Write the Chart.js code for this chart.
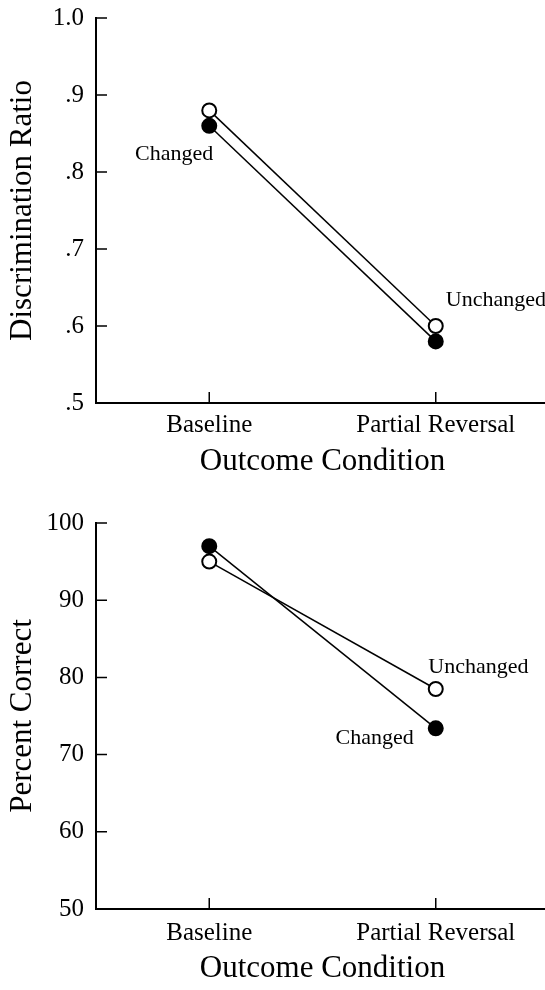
<!DOCTYPE html>
<html>
<head>
<meta charset="utf-8">
<script src="https://cdn.jsdelivr.net/npm/chart.js@4"></script>
<style>
  html, body { margin: 0; padding: 0; background: #fff; overflow: hidden; }
  .box { width: 549px; height: 495px; }
  canvas { display: block; }
</style>
</head>
<body>
<div class="box"><canvas id="ratio" width="549" height="495"></canvas></div>
<div class="box"><canvas id="percent" width="549" height="495"></canvas></div>
<script>
const conditions = ["Baseline", "Partial Reversal"];

// discrimination ratio panel
const ratioChanged = [0.86, 0.58];
const ratioUnchanged = [0.88, 0.60];
const ratioTicks = [0.5, 0.6, 0.7, 0.8, 0.9, 1.0];
const ratioTickLabels = [".5", ".6", ".7", ".8", ".9", "1.0"];

// percent correct panel
const pctChanged = [97, 73.4];
const pctUnchanged = [95, 78.5];
const pctTicks = [50, 60, 70, 80, 90, 100];
const pctTickLabels = ["50", "60", "70", "80", "90", "100"];

Chart.defaults.font.family = '"Liberation Serif", "Times New Roman", serif';
Chart.defaults.color = "#000";

// short tick marks pointing into the plot area
const innerTicks = {
  id: "innerTicks",
  afterDraw(chart) {
    const { ctx, chartArea, scales } = chart;
    ctx.save();
    ctx.strokeStyle = "#000";
    ctx.lineWidth = 1.5;
    ctx.beginPath();
    scales.y.ticks.forEach((t) => {
      const y = scales.y.getPixelForValue(t.value);
      ctx.moveTo(chartArea.left, y);
      ctx.lineTo(chartArea.left + 11, y);
    });
    scales.x.ticks.forEach((t, i) => {
      const x = scales.x.getPixelForTick(i);
      ctx.moveTo(x, chartArea.bottom);
      ctx.lineTo(x, chartArea.bottom - 11);
    });
    ctx.stroke();
    ctx.restore();
  },
};

// series names written next to the points
const notes = {
  id: "notes",
  afterDatasetsDraw(chart, args, opts) {
    const { ctx, scales } = chart;
    ctx.save();
    ctx.fillStyle = "#000";
    ctx.font = '22px "Liberation Serif", "Times New Roman", serif';
    ctx.textBaseline = "alphabetic";
    opts.items.forEach((n) => {
      const v = chart.data.datasets[n.ds].data[n.i];
      const x = scales.x.getPixelForValue(n.i) + n.dx;
      const y = scales.y.getPixelForValue(v) + n.dy;
      ctx.textAlign = n.align;
      ctx.fillText(n.text, x, y);
    });
    ctx.restore();
  },
};

function makePanel(id, p) {
  const ctx = document.getElementById(id).getContext("2d");
  return new Chart(ctx, {
    type: "line",
    data: {
      labels: conditions,
      datasets: [
        {
          label: "Changed",
          data: p.changed,
          borderColor: "#000",
          borderWidth: 1.5,
          pointRadius: 7,
          pointBorderWidth: 2,
          pointBackgroundColor: "#000",
          pointBorderColor: "#000",
          tension: 0,
          order: p.changedOnTop ? 0 : 1,
        },
        {
          label: "Unchanged",
          data: p.unchanged,
          borderColor: "#000",
          borderWidth: 1.5,
          pointRadius: 7,
          pointBorderWidth: 2,
          pointBackgroundColor: "#fff",
          pointBorderColor: "#000",
          tension: 0,
          order: p.changedOnTop ? 1 : 0,
        },
      ],
    },
    options: {
      responsive: false,
      animation: false,
      layout: { autoPadding: false, padding: { top: p.top, left: 0, right: 0, bottom: 0 } },
      plugins: {
        legend: { display: false },
        tooltip: { enabled: false },
        notes: { items: p.notes },
      },
      scales: {
        x: {
          type: "category",
          offset: true,
          grid: { display: false, drawTicks: false },
          border: { display: true, color: "#000", width: 2 },
          ticks: { font: { size: 25 }, padding: p.tickPad, maxRotation: 0, color: "#000" },
          title: {
            display: true,
            text: "Outcome Condition",
            font: { size: 31 },
            color: "#000",
            padding: { top: 0, bottom: p.titlePad },
          },
          afterFit: (s) => {
            s.height = p.axisH;
            s.paddingLeft = 0;
            s.paddingRight = 0;
          },
        },
        y: {
          type: "linear",
          min: p.ticks[0],
          max: p.ticks[p.ticks.length - 1],
          afterBuildTicks: (s) => { s.ticks = p.ticks.map((v) => ({ value: v })); },
          grid: { display: false, drawTicks: false },
          border: { display: true, color: "#000", width: 2 },
          ticks: {
            font: { size: 25 },
            padding: 12,
            color: "#000",
            callback: (v) => p.tickLabels[p.ticks.indexOf(v)],
          },
          title: {
            display: true,
            text: p.yTitle,
            font: { size: 31 },
            color: "#000",
            padding: { top: 4, bottom: 0 },
          },
          afterFit: (s) => {
            s.width = 96;
            s.paddingTop = 0;
            s.paddingBottom = 0;
          },
        },
      },
    },
    plugins: [innerTicks, notes],
  });
}

makePanel("ratio", {
  changed: ratioChanged,
  unchanged: ratioUnchanged,
  ticks: ratioTicks,
  tickLabels: ratioTickLabels,
  yTitle: "Discrimination Ratio",
  changedOnTop: false,
  top: 18,
  axisH: 92,
  tickPad: 7,
  titlePad: 15,
  notes: [
    { text: "Changed", ds: 0, i: 0, dx: 4, dy: 34, align: "right" },
    { text: "Unchanged", ds: 1, i: 1, dx: 10, dy: -20, align: "left" },
  ],
});

makePanel("percent", {
  changed: pctChanged,
  unchanged: pctUnchanged,
  ticks: pctTicks,
  tickLabels: pctTickLabels,
  yTitle: "Percent Correct",
  changedOnTop: true,
  top: 28,
  axisH: 81,
  tickPad: 9,
  titlePad: 3,
  notes: [
    { text: "Unchanged", ds: 1, i: 1, dx: -7.5, dy: -16, align: "left" },
    { text: "Changed", ds: 0, i: 1, dx: -22, dy: 16, align: "right" },
  ],
});
</script>
</body>
</html>
